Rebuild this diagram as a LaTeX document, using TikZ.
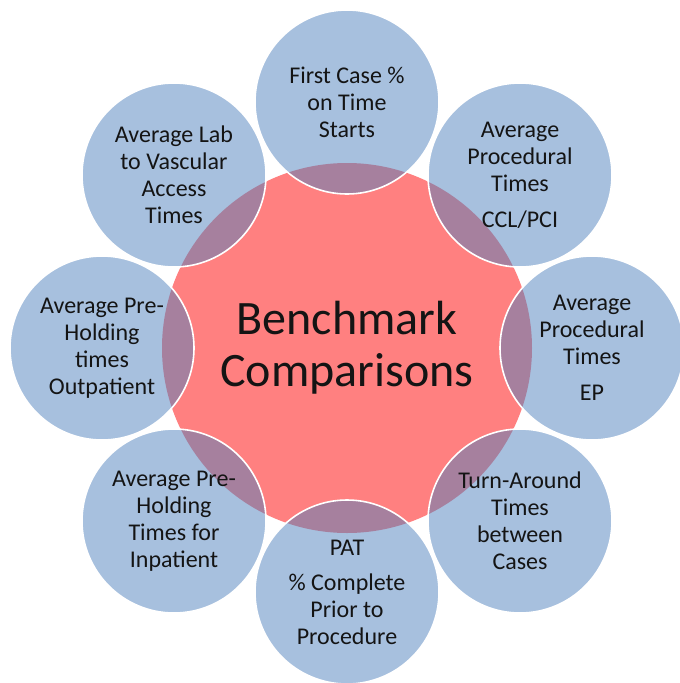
\documentclass[tikz,border=0pt]{standalone}
\usepackage{fontspec}
\setmainfont{Carlito}
\definecolor{hubred}{RGB}{255,128,128}
\definecolor{metricblue}{RGB}{79,129,189}
\definecolor{inktext}{RGB}{20,20,20}
\tikzset{
    hub/.style={circle, fill=hubred, minimum size=370pt, inner sep=0pt,
        align=center, text=inktext, font=\fontsize{48}{52}\selectfont},
    metric/.style={circle, fill=metricblue, fill opacity=0.5, text opacity=1,
        draw=white, draw opacity=1, line width=1.6pt, minimum size=184pt,
        inner sep=0pt, align=center, text=inktext,
        font=\fontsize{24}{27}\selectfont},
}

\begin{document}
\begin{tikzpicture}[x=1pt,y=-1pt]
		\useasboundingbox (0,0) rectangle (680,683);
		\node[hub] (hub) at (347,348) {Benchmark\\Comparisons};
		% ring of metrics, 245 out from the hub
		\node[metric] (firstcase) at (347,102) {First Case \%\\on Time\\Starts};
		\node[metric] (proccath) at (520,175) {Average\\Procedural\\Times\\[9pt]CCL/PCI};
		\node[metric] (procep) at (592,348) {Average\\Procedural\\Times\\[9pt]EP};
		\node[metric] (turnaround) at (520,521) {Turn-Around\\Times\\between\\Cases};
		\node[metric] (pat) at (347,592) {PAT\\[8pt]\% Complete\\Prior to\\Procedure};
		\node[metric] (preinpat) at (174,521) {Average Pre-\\Holding\\Times for\\Inpatient};
		\node[metric] (preoutpat) at (102,348) {Average Pre-\\Holding\\times\\Outpatient};
		\node[metric] (labaccess) at (174,175) {Average Lab\\to Vascular\\Access\\Times};
	\end{tikzpicture}
\end{document}
